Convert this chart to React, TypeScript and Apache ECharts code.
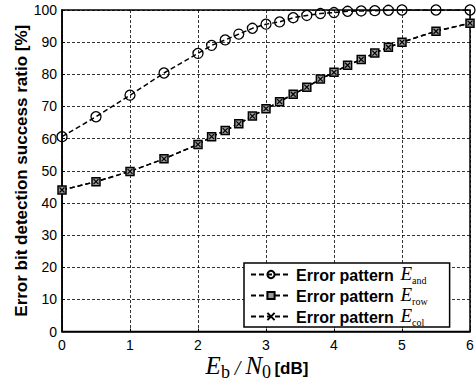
import React, { useEffect, useRef } from "react";
import * as echarts from "echarts";

const ebn0 = [0, 0.5, 1, 1.5, 2, 2.2, 2.4, 2.6, 2.8, 3, 3.2, 3.4, 3.6, 3.8, 4, 4.2, 4.4, 4.6, 4.8, 5, 5.5, 6];
const andValues = [60.6, 66.8, 73.5, 80.4, 86.5, 89.0, 90.7, 92.5, 94.3, 95.6, 96.3, 97.6, 98.3, 98.9, 99.2, 99.6, 99.7, 99.8, 99.9, 100, 100, 100];
const rowValues = [44.0, 46.6, 49.8, 53.7, 58.2, 60.6, 62.5, 64.6, 67.0, 69.3, 71.5, 73.8, 76.0, 78.5, 80.6, 82.8, 84.6, 86.6, 88.4, 90.0, 93.4, 95.9];
const colValues = [44.0, 46.6, 49.8, 53.7, 58.2, 60.6, 62.5, 64.6, 67.0, 69.3, 71.5, 73.8, 76.0, 78.5, 80.6, 82.8, 84.6, 86.6, 88.4, 90.0, 93.4, 95.9];
const seriesNames = ["and", "row", "col"];
const xTicks = { min: 0, max: 6, interval: 1 };
const yTicks = { min: 0, max: 100, interval: 10 };

const pair = (ys: number[]) => ebn0.map((x, i) => [x, ys[i]]);

export default function App() {
  const ref = useRef<HTMLDivElement>(null);
  useEffect(() => {
    if (!ref.current) return;
    const chart = echarts.init(ref.current, undefined, { renderer: "svg" });
    const lineStyle = { color: "#000", width: 1.5, type: [5, 3] as any };
    const sans = "Liberation Sans";
    const serif = "Liberation Serif";
    chart.setOption({
      animation: false,
      backgroundColor: "#fff",
      grid: {
        left: 62,
        top: 10,
        right: 6,
        bottom: 49.5,
        show: true,
        borderColor: "#000",
        borderWidth: 1.5,
        containLabel: false,
        outerBoundsMode: "none",
      },
      xAxis: {
        type: "value",
        ...xTicks,
        axisLine: { show: true, lineStyle: { color: "#000", width: 1.5 } },
        axisTick: { show: true, inside: true, length: 3, lineStyle: { color: "#000" } },
        axisLabel: { color: "#000", fontSize: 14, fontFamily: sans, margin: 6 },
        splitLine: { show: true, lineStyle: { color: "#000", width: 0.8, type: [3, 2] } },
        name: "{e|E}{s|b}{m| / }{e|N}{s|0} {d|[dB]}",
        nameLocation: "middle",
        nameGap: 21,
        nameMoveOverlap: false,
        nameTextStyle: {
          padding: [0, 18, 0, 0],
          rich: {
            e: { fontFamily: serif, fontStyle: "italic", fontSize: 25, color: "#000", verticalAlign: "bottom", padding: [0, 0, 3, 0] },
            m: { fontFamily: serif, fontStyle: "italic", fontSize: 20, color: "#000", verticalAlign: "bottom", padding: [0, 0, 3, 0] },
            s: { fontFamily: serif, fontSize: 18, color: "#000", verticalAlign: "bottom" },
            d: { fontFamily: sans, fontWeight: "bold", fontSize: 17, color: "#000", verticalAlign: "bottom", padding: [0, 0, 4, 0] },
          },
        },
      },
      yAxis: {
        type: "value",
        ...yTicks,
        axisLine: { show: true, lineStyle: { color: "#000", width: 1.5 } },
        axisTick: { show: true, inside: true, length: 3, lineStyle: { color: "#000" } },
        axisLabel: { color: "#000", fontSize: 14, fontFamily: sans, margin: 5 },
        splitLine: { show: true, lineStyle: { color: "#000", width: 0.8, type: [3, 2] } },
        name: "Error bit detection success ratio [%]",
        nameLocation: "middle",
        nameGap: 32,
        nameMoveOverlap: false,
        nameTextStyle: { fontFamily: sans, fontWeight: "bold", fontSize: 17, color: "#000" },
      },
      legend: {
        orient: "vertical",
        left: 244,
        top: 263,
        padding: [1, 22, 0, 6],
        itemGap: 0,
        itemWidth: 40,
        itemHeight: 9,
        backgroundColor: "#fff",
        borderColor: "#000",
        borderWidth: 1.5,
        borderRadius: 0,
        data: seriesNames,
        formatter: (name: string) => `{b|Error pattern}  {e|E}{s|${name}}`,
        textStyle: {
          rich: {
            b: { fontFamily: sans, fontWeight: "bold", fontSize: 16, color: "#000", verticalAlign: "bottom", padding: [0, 0, 2, 0] },
            e: { fontFamily: serif, fontStyle: "italic", fontSize: 19, color: "#000", verticalAlign: "bottom", padding: [0, 0, 2, 0] },
            s: { fontFamily: serif, fontSize: 10, color: "#000", verticalAlign: "bottom" },
          },
        },
      },
      series: [
        {
          name: "and",
          type: "line",
          data: pair(andValues),
          symbol: "circle",
          symbolSize: 10,
          lineStyle,
          itemStyle: { color: "rgba(255,255,255,0)", borderColor: "#000", borderWidth: 1.3 },
        },
        {
          name: "row",
          type: "line",
          data: pair(rowValues),
          symbol: "rect",
          symbolSize: 8,
          lineStyle,
          itemStyle: { color: "#999", borderColor: "#000", borderWidth: 1.5 },
        },
        {
          name: "col",
          type: "line",
          data: pair(colValues),
          symbol: "path://M0,0L10,10M10,0L0,10",
          symbolSize: 5,
          lineStyle,
          itemStyle: { color: "rgba(0,0,0,0)", borderColor: "#000", borderWidth: 1.2 },
        },
      ],
    });
    return () => chart.dispose();
  }, []);
  return <div ref={ref} style={{ width: 476, height: 381, position: "absolute", left: 0, top: 0 }} />;
}
